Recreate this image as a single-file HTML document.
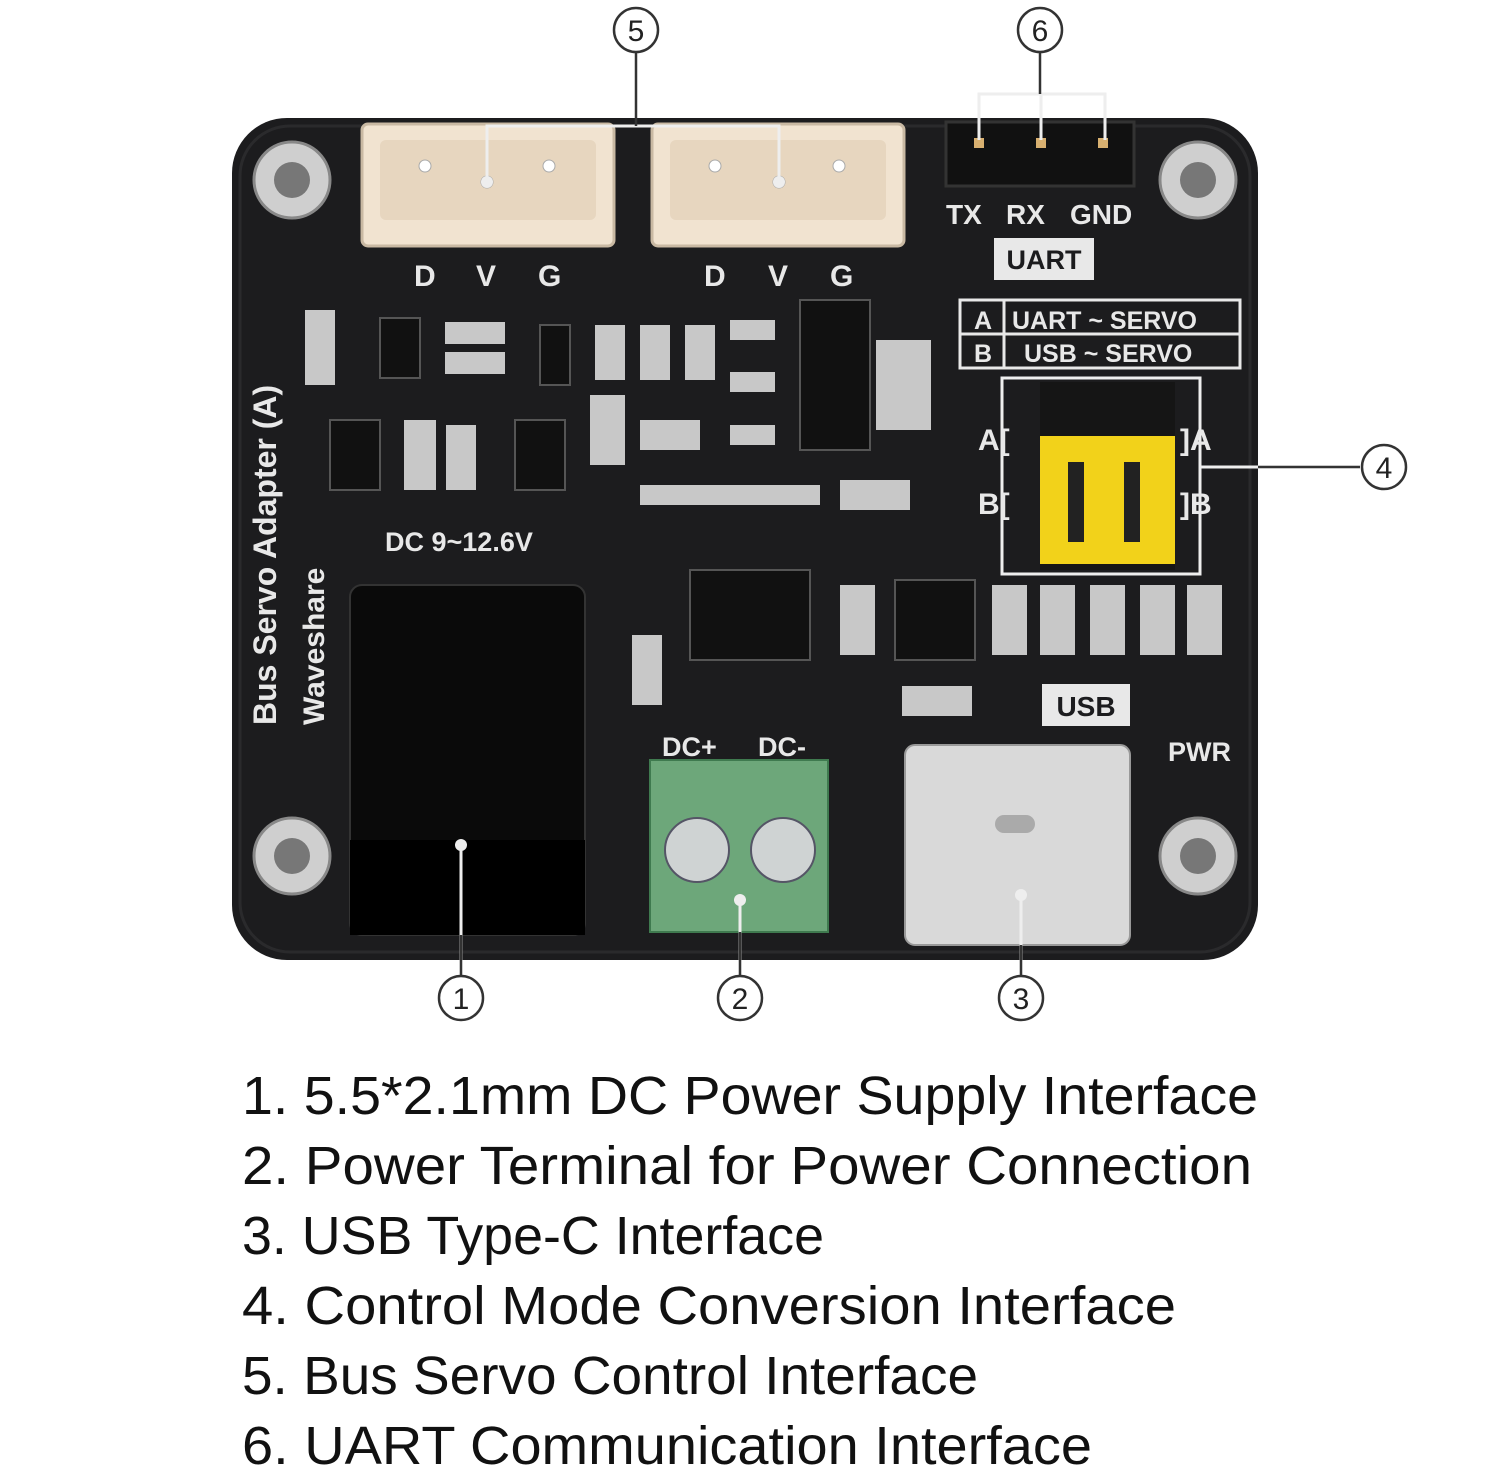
<!DOCTYPE html>
<html><head><meta charset="utf-8"><style>
html,body{margin:0;padding:0;background:#fff;}
svg{display:block;}
</style></head><body>
<svg width="1500" height="1473" viewBox="0 0 1500 1473" xmlns="http://www.w3.org/2000/svg" font-family="Liberation Sans, sans-serif">
<rect width="1500" height="1473" fill="#fff"/>
<!-- board -->
<rect x="232" y="118" width="1026" height="842" rx="55" fill="#1c1c1e"/>
<rect x="240" y="126" width="1010" height="826" rx="50" fill="none" stroke="#2a2a2c" stroke-width="3"/>
<!-- screws -->
<g fill="#cfcfcf" stroke="#888" stroke-width="3">
<circle cx="292" cy="180" r="38"/><circle cx="1198" cy="180" r="38"/>
<circle cx="292" cy="856" r="38"/><circle cx="1198" cy="856" r="38"/>
</g>
<g fill="#777"><circle cx="292" cy="180" r="18"/><circle cx="1198" cy="180" r="18"/><circle cx="292" cy="856" r="18"/><circle cx="1198" cy="856" r="18"/></g>
<!-- JST connectors -->
<g>
<rect x="362" y="124" width="252" height="122" rx="6" fill="#f1e3d0" stroke="#c9b9a3" stroke-width="3"/>
<rect x="380" y="140" width="216" height="80" rx="6" fill="#e7d6bf"/>
<rect x="652" y="124" width="252" height="122" rx="6" fill="#f1e3d0" stroke="#c9b9a3" stroke-width="3"/>
<rect x="670" y="140" width="216" height="80" rx="6" fill="#e7d6bf"/>
<g fill="#fff" stroke="#aaa"><circle cx="425" cy="166" r="6"/><circle cx="487" cy="182" r="6"/><circle cx="549" cy="166" r="6"/><circle cx="715" cy="166" r="6"/><circle cx="779" cy="182" r="6"/><circle cx="839" cy="166" r="6"/></g>
</g>
<g fill="#e8e8e8" font-weight="bold" font-size="30">
<text x="414" y="286">D</text><text x="476" y="286">V</text><text x="538" y="286">G</text>
<text x="704" y="286">D</text><text x="768" y="286">V</text><text x="830" y="286">G</text>
</g>
<!-- UART header -->
<rect x="946" y="122" width="188" height="64" fill="#111" stroke="#333" stroke-width="3"/>
<g fill="#d8b070"><rect x="974" y="138" width="10" height="10"/><rect x="1036" y="138" width="10" height="10"/><rect x="1098" y="138" width="10" height="10"/></g>
<g fill="#e8e8e8" font-weight="bold" font-size="28">
<text x="946" y="224">TX</text><text x="1006" y="224">RX</text><text x="1070" y="224">GND</text>
</g>
<rect x="994" y="238" width="100" height="42" fill="#e8e8e8"/>
<text x="1044" y="269" text-anchor="middle" font-size="27" font-weight="bold" fill="#1c1c1e">UART</text>
<!-- mode table -->
<g stroke="#e8e8e8" stroke-width="3" fill="none">
<rect x="960" y="300" width="280" height="68"/><line x1="960" y1="334" x2="1240" y2="334"/><line x1="1004" y1="300" x2="1004" y2="368"/>
</g>
<g fill="#e8e8e8" font-weight="bold" font-size="25">
<text x="974" y="329">A</text><text x="974" y="362">B</text>
<text x="1012" y="329">UART ~ SERVO</text><text x="1024" y="362">USB ~ SERVO</text>
</g>
<!-- jumper -->
<rect x="1002" y="378" width="198" height="196" fill="none" stroke="#eee" stroke-width="3"/>
<rect x="1040" y="382" width="135" height="188" fill="#151515"/>
<rect x="1040" y="436" width="135" height="128" fill="#f2d21a"/>
<g fill="#222"><rect x="1068" y="462" width="16" height="80"/><rect x="1124" y="462" width="16" height="80"/></g>
<g fill="#e8e8e8" font-weight="bold" font-size="30"><text x="978" y="450">A[</text><text x="978" y="514">B[</text><text x="1180" y="450">]A</text><text x="1180" y="514">]B</text></g>
<!-- misc chips -->
<g fill="#111" stroke="#555" stroke-width="2">
<rect x="380" y="318" width="40" height="60"/><rect x="540" y="325" width="30" height="60"/>
<rect x="330" y="420" width="50" height="70"/><rect x="515" y="420" width="50" height="70"/>
<rect x="800" y="300" width="70" height="150"/><rect x="690" y="570" width="120" height="90"/>
<rect x="895" y="580" width="80" height="80"/>
</g>
<g fill="#c8c8c8">
<rect x="445" y="322" width="60" height="22"/><rect x="445" y="352" width="60" height="22"/>
<rect x="640" y="325" width="30" height="55"/><rect x="685" y="325" width="30" height="55"/><rect x="595" y="325" width="30" height="55"/>
<rect x="730" y="320" width="45" height="20"/><rect x="730" y="372" width="45" height="20"/><rect x="730" y="425" width="45" height="20"/>
<rect x="590" y="395" width="35" height="70"/><rect x="404" y="420" width="32" height="70"/><rect x="446" y="425" width="30" height="65"/>
<rect x="640" y="420" width="60" height="30"/><rect x="840" y="480" width="70" height="30"/>
<rect x="640" y="485" width="180" height="20"/>
<rect x="992" y="585" width="35" height="70"/><rect x="1040" y="585" width="35" height="70"/><rect x="1090" y="585" width="35" height="70"/><rect x="1140" y="585" width="35" height="70"/><rect x="1187" y="585" width="35" height="70"/>
<rect x="840" y="585" width="35" height="70"/><rect x="632" y="635" width="30" height="70"/><rect x="902" y="686" width="70" height="30"/>
<rect x="876" y="340" width="55" height="90"/><rect x="305" y="310" width="30" height="75"/>
</g>
<!-- side text -->
<g fill="#e8e8e8" font-weight="bold">
<text transform="translate(276,725) rotate(-90)" font-size="32">Bus Servo Adapter (A)</text>
<text transform="translate(324,725) rotate(-90)" font-size="30">Waveshare</text>
<text x="385" y="551" font-size="27">DC 9~12.6V</text>
<text x="662" y="756" font-size="27">DC+</text><text x="758" y="756" font-size="27">DC-</text>
<text x="1168" y="761" font-size="27">PWR</text>
</g>
<rect x="1042" y="684" width="88" height="42" fill="#e8e8e8"/>
<text x="1086" y="716" text-anchor="middle" font-size="28" font-weight="bold" fill="#1c1c1e">USB</text>
<!-- DC jack -->
<rect x="350" y="585" width="235" height="350" rx="12" fill="#0a0a0a" stroke="#333" stroke-width="2"/>
<rect x="350" y="840" width="235" height="95" fill="#000"/>
<!-- terminal -->
<rect x="650" y="760" width="178" height="172" fill="#6da77a" stroke="#3f7a4f" stroke-width="2"/>
<circle cx="697" cy="850" r="32" fill="#cfd3d3" stroke="#556" stroke-width="2"/>
<circle cx="783" cy="850" r="32" fill="#cfd3d3" stroke="#556" stroke-width="2"/>
<!-- USB-C -->
<rect x="905" y="745" width="225" height="200" rx="10" fill="#d9d9d9" stroke="#999" stroke-width="2"/>
<rect x="995" y="815" width="40" height="18" rx="9" fill="#aaa"/>
<!-- callout lines -->
<g stroke="#eee" stroke-width="3" fill="none">
<path d="M487 182 V126 H779 V182"/><path d="M979 140 V94 H1105 V140 M1041 94 V140"/>
<path d="M461 845 V975"/><path d="M740 900 V975"/><path d="M1021 895 V975"/>
<path d="M1200 467 H1360"/>
</g>
<g stroke="#333" stroke-width="2.5" fill="none">
<path d="M636 52 V126"/><path d="M1040 52 V94"/>
<path d="M461 935 V975"/><path d="M740 932 V975"/><path d="M1021 945 V975"/><path d="M1258 467 H1360"/>
</g>
<g fill="#eee"><circle cx="461" cy="845" r="6"/><circle cx="740" cy="900" r="6"/><circle cx="1021" cy="895" r="6"/><circle cx="487" cy="182" r="6"/><circle cx="779" cy="182" r="6"/></g>
<!-- numbered circles -->
<g fill="#fff" stroke="#333" stroke-width="2.5">
<circle cx="636" cy="30" r="22"/><circle cx="1040" cy="30" r="22"/><circle cx="1384" cy="467" r="22"/>
<circle cx="461" cy="998" r="22"/><circle cx="740" cy="998" r="22"/><circle cx="1021" cy="998" r="22"/>
</g>
<g font-size="30" text-anchor="middle" fill="#222">
<text x="636" y="41">5</text><text x="1040" y="41">6</text><text x="1384" y="478">4</text>
<text x="461" y="1009">1</text><text x="740" y="1009">2</text><text x="1021" y="1009">3</text>
</g>
<!-- list -->
<g font-size="54" fill="#111">
<text x="242" y="1114" textLength="1016" lengthAdjust="spacingAndGlyphs">1. 5.5*2.1mm DC Power Supply Interface</text>
<text x="242" y="1184" textLength="1010" lengthAdjust="spacingAndGlyphs">2. Power Terminal for Power Connection</text>
<text x="242" y="1254" textLength="582" lengthAdjust="spacingAndGlyphs">3. USB Type-C Interface</text>
<text x="242" y="1324" textLength="934" lengthAdjust="spacingAndGlyphs">4. Control Mode Conversion Interface</text>
<text x="242" y="1394" textLength="736" lengthAdjust="spacingAndGlyphs">5. Bus Servo Control Interface</text>
<text x="242" y="1464" textLength="850" lengthAdjust="spacingAndGlyphs">6. UART Communication Interface</text>
</g>
</svg>
</body></html>
